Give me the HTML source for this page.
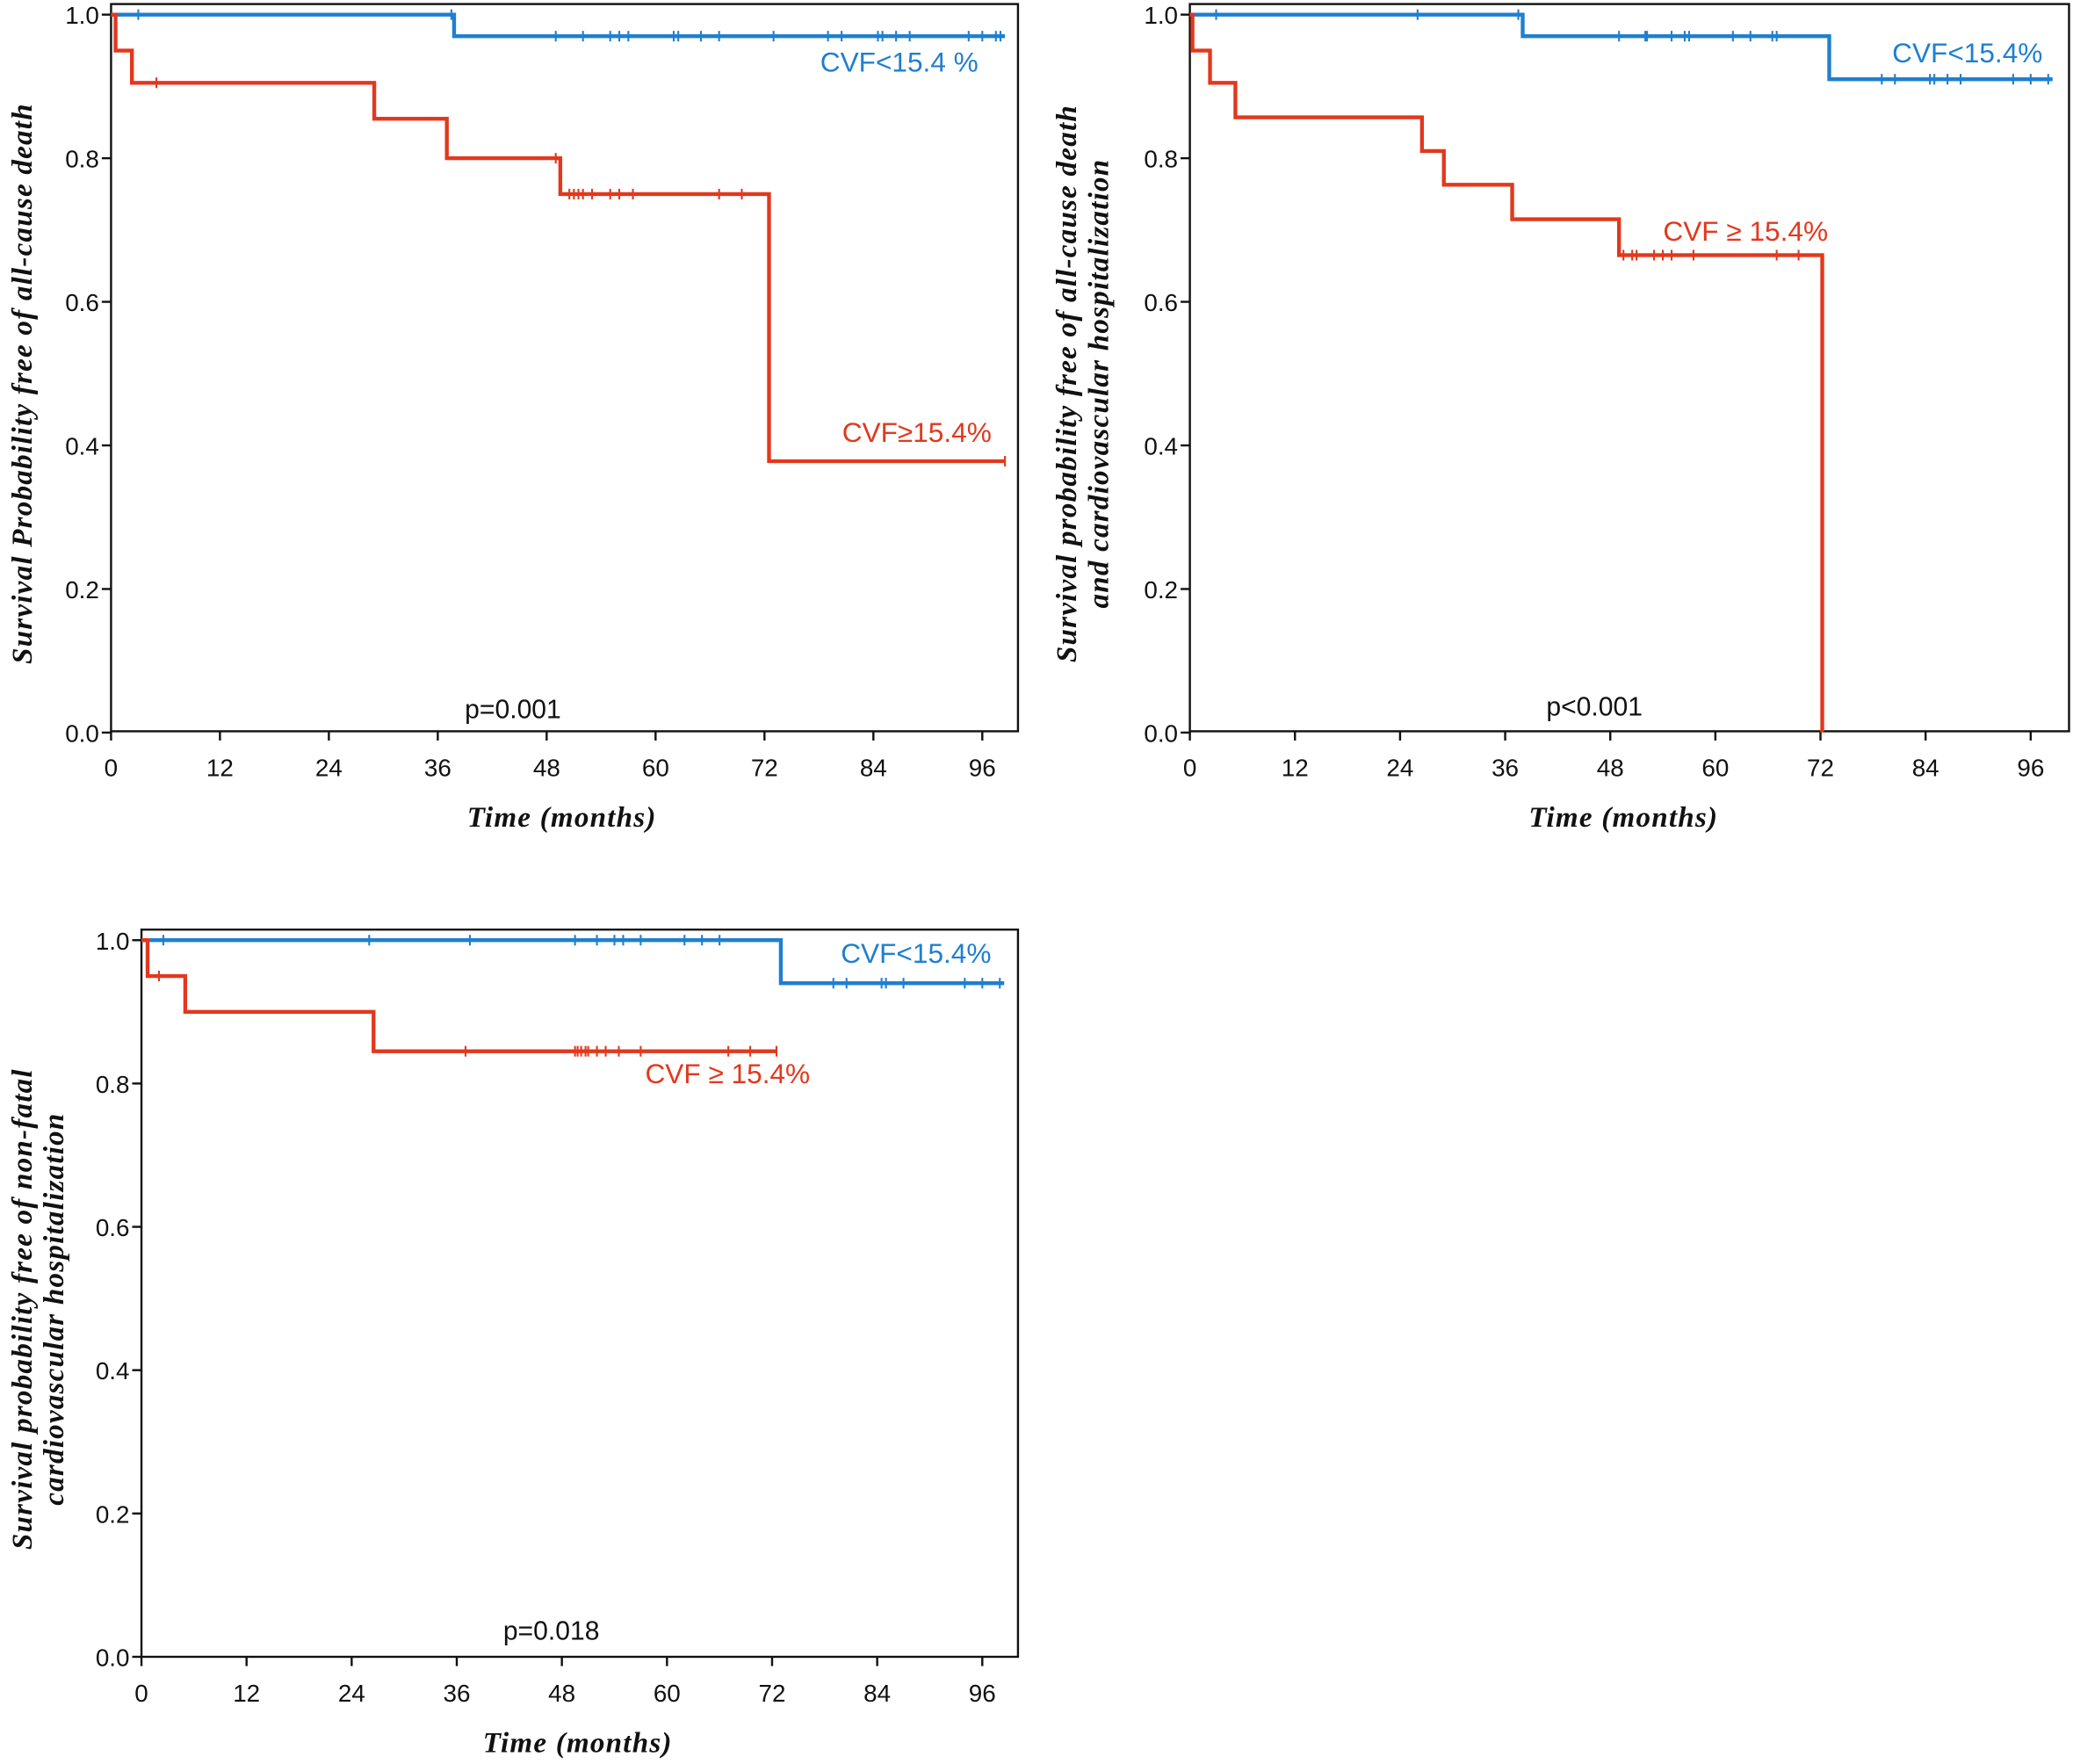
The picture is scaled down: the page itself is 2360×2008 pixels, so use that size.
<!DOCTYPE html>
<html><head><meta charset="utf-8"><style>
html,body{margin:0;padding:0;background:#fff;}
svg{display:block;}
text{font-family:"Liberation Sans",sans-serif;}
.tk{font-size:18.5px;fill:#111;}
.pv{font-size:20px;fill:#111;}
.at{font-family:"Liberation Serif",serif;font-style:italic;font-weight:bold;font-size:22px;fill:#111;letter-spacing:0.8px;}
.lg{font-size:21px;}
</style></head><body>
<svg id="c" width="2360" height="2008" viewBox="0 0 1568 1334" xmlns="http://www.w3.org/2000/svg"></svg>
<script>
// ---- data ----
const xTicks = [0,12,24,36,48,60,72,84,96];
const yTicks = [0.0,0.2,0.4,0.6,0.8,1.0];
// panel 1: all-cause death
const p1BlueTimes = [0,37.8,98.5];
const p1BlueSurv  = [1.0,0.97,0.97];
const p1BlueCensT = [3,37.5,49,52,55,56,57,62,62.5,65,67,73,79,80.5,84.5,85,86.5,88,94.5,96,97.5,98];
const p1RedTimes = [0,0.5,2.3,29,37,49.5,72.5,98.5];
const p1RedSurv  = [1.0,0.95,0.905,0.855,0.80,0.75,0.378,0.378];
const p1RedCensT = [5,49,50.5,51,51.5,52,53,55,56,57.5,67,69.5,98.5];
// panel 2: death + CV hospitalization
const p2BlueTimes = [0,38,73,98.5];
const p2BlueSurv  = [1.0,0.97,0.91,0.91];
const p2BlueCensT = [3,26,37.5,49,52,52.2,55,56.5,57,62,64,66.5,67,79,80.5,84.5,85,86.5,88,94,96,98];
const p2RedTimes = [0,0.3,2.3,5.2,26.5,29,36.8,49,72.2,72.2];
const p2RedSurv  = [1.0,0.95,0.905,0.857,0.81,0.763,0.715,0.665,0.0,0.0];
const p2RedCensT = [49.5,50.5,51,53,54,55,57.5,67,69.5];
// panel 3: non-fatal CV hospitalization
const p3BlueTimes = [0,73,98.5];
const p3BlueSurv  = [1.0,0.94,0.94];
const p3BlueCensT = [2.5,26,37.5,49.5,52,54,55,57,62,64,66,79,80.5,84.5,85,87,94,96,98];
const p3RedTimes = [0,0.7,5,26.5,72.5];
const p3RedSurv  = [1.0,0.95,0.90,0.845,0.845];
const p3RedCensT = [2,37,49.5,49.8,50.2,50.7,51,52,53,54.5,57,67,69.5,72.5];

const NS="http://www.w3.org/2000/svg";
const svg=document.getElementById('c');
const BLUE="#1f7fd0", RED="#e2381d";
function mk(tag,attrs,parent){const e=document.createElementNS(NS,tag);for(const k in attrs)e.setAttribute(k,attrs[k]);(parent||svg).appendChild(e);return e;}
function survAt(times,surv,t){let s=surv[0];for(let i=0;i<times.length;i++){if(times[i]<=t)s=surv[i];}return s;}

function panel(cfg){
  const g=mk('g',{});
  
  
  const X=v=>cfg.x0+v*cfg.mx, Y=v=>cfg.y0-v*(cfg.y0-cfg.y1);
  const fr=mk('rect',{x:cfg.L,y:cfg.T,width:cfg.R-cfg.L,height:cfg.B-cfg.T,fill:'none',stroke:'#111','stroke-width':1.6},g);
  
  
  xTicks.forEach(t=>{
    mk('line',{x1:X(t),x2:X(t),y1:cfg.B,y2:cfg.B+7,stroke:'#111','stroke-width':1.6},g);
    const tx=mk('text',{x:X(t),y:cfg.B+34,'text-anchor':'middle',class:'tk'},g);tx.textContent=t;
    
    
  });
  yTicks.forEach(t=>{
    mk('line',{x1:cfg.L-7,x2:cfg.L,y1:Y(t),y2:Y(t),stroke:'#111','stroke-width':1.6},g);
    const tx=mk('text',{x:cfg.L-9,y:Y(t)+7,'text-anchor':'end',class:'tk'},g);tx.textContent=t.toFixed(1);
    
    
  });
  cfg.series.forEach(s=>{
    let d='M'+X(s.t[0])+','+Y(s.s[0]);
    for(let i=1;i<s.t.length;i++){d+=' H'+X(s.t[i])+' V'+Y(s.s[i]);}
    const p=mk('path',{d:d,fill:'none',stroke:s.c,'stroke-width':2.9},g);
    
    
    s.cens.forEach(ct=>{
      const yv=Y(survAt(s.t,s.s,ct));
      const l=mk('line',{x1:X(ct),x2:X(ct),y1:yv-4,y2:yv+4,stroke:s.c,'stroke-width':1.4},g);
      
      
    });
  });
  cfg.labels.forEach(lb=>{
    const t=mk('text',{x:lb.x,y:lb.y,'text-anchor':lb.a||'start',class:lb.cls,fill:lb.c||'#111'},g);
    t.textContent=lb.txt;
    
    
  });
  cfg.ytitle.forEach(yt=>{
    const t=mk('text',{x:0,y:0,'text-anchor':'middle',class:'at',transform:`translate(${yt.x},${yt.y}) rotate(-90)`},g);
    t.textContent=yt.txt;
    
    
  });
}

panel({name:'panel-all-cause-death',L:84,R:770,T:3,B:553,x0:84,mx:(743-84)/96,y0:554,y1:11,
  series:[{n:'cvf-low',c:BLUE,t:p1BlueTimes,s:p1BlueSurv,cens:p1BlueCensT},{n:'cvf-high',c:RED,t:p1RedTimes,s:p1RedSurv,cens:p1RedCensT}],
  labels:[{x:740,y:54,a:'end',cls:'lg',c:BLUE,txt:'CVF<15.4 %',n:'legend-cvf-low'},
          {x:750,y:334,a:'end',cls:'lg',c:RED,txt:'CVF≥15.4%',n:'legend-cvf-high'},
          {x:388,y:543,a:'middle',cls:'pv',txt:'p=0.001',n:'p-value'},
          {x:425,y:625,a:'middle',cls:'at',txt:'Time (months)',n:'x-axis-title'}],
  ytitle:[{x:24,y:290,txt:'Survival Probability free of all-cause death'}]});

panel({name:'panel-death-or-cv-hospitalization',L:900,R:1565,T:3,B:553,x0:900,mx:(1536-900)/96,y0:554,y1:11,
  series:[{n:'cvf-low',c:BLUE,t:p2BlueTimes,s:p2BlueSurv,cens:p2BlueCensT},{n:'cvf-high',c:RED,t:p2RedTimes,s:p2RedSurv,cens:p2RedCensT}],
  labels:[{x:1545,y:47,a:'end',cls:'lg',c:BLUE,txt:'CVF<15.4%',n:'legend-cvf-low'},
          {x:1258,y:182,a:'start',cls:'lg',c:RED,txt:'CVF ≥ 15.4%',n:'legend-cvf-high'},
          {x:1206,y:541,a:'middle',cls:'pv',txt:'p<0.001',n:'p-value'},
          {x:1228,y:625,a:'middle',cls:'at',txt:'Time (months)',n:'x-axis-title'}],
  ytitle:[{x:814,y:290,txt:'Survival probability free of all-cause death'},{x:838,y:290,txt:'and cardiovascular hospitalization'}]});

panel({name:'panel-non-fatal-cv-hospitalization',L:107,R:770,T:703,B:1253,x0:107,mx:(743-107)/96,y0:1253,y1:711,
  series:[{n:'cvf-low',c:BLUE,t:p3BlueTimes,s:p3BlueSurv,cens:p3BlueCensT},{n:'cvf-high',c:RED,t:p3RedTimes,s:p3RedSurv,cens:p3RedCensT}],
  labels:[{x:636,y:728,a:'start',cls:'lg',c:BLUE,txt:'CVF<15.4%',n:'legend-cvf-low'},
          {x:488,y:819,a:'start',cls:'lg',c:RED,txt:'CVF ≥ 15.4%',n:'legend-cvf-high'},
          {x:417,y:1240,a:'middle',cls:'pv',txt:'p=0.018',n:'p-value'},
          {x:437,y:1325,a:'middle',cls:'at',txt:'Time (months)',n:'x-axis-title'}],
  ytitle:[{x:24,y:990,txt:'Survival probability free of non-fatal'},{x:48,y:990,txt:'cardiovascular hospitalization'}]});
</script>
</body></html>
